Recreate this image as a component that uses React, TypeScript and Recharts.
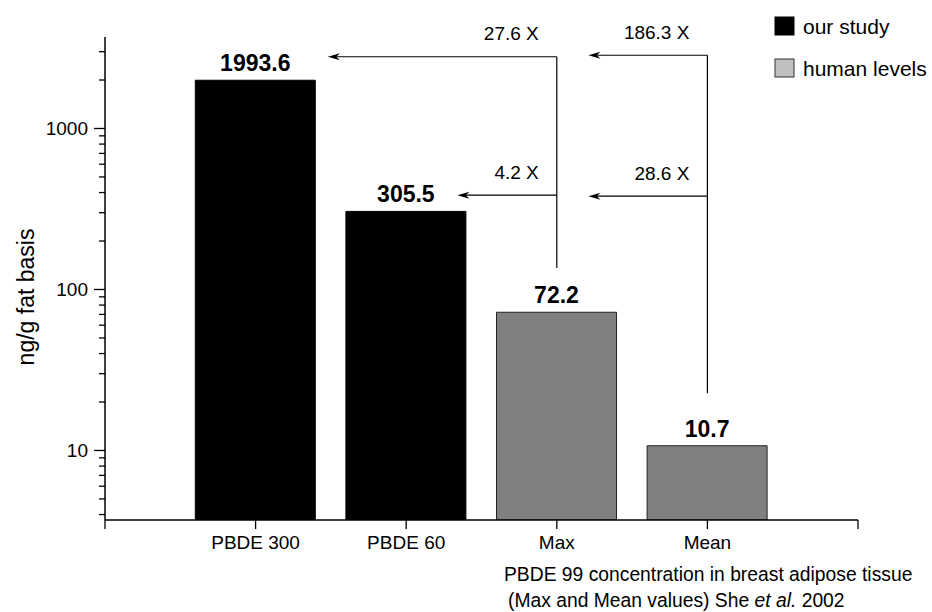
import React from 'react';
import { BarChart, Bar, XAxis, YAxis, Cell, LabelList, ReferenceLine, Customized } from 'recharts';

const FONT = '"Liberation Sans", Arial, Helvetica, sans-serif';

// categories and values
const CATEGORIES = ['PBDE 300', 'PBDE 60', 'Max', 'Mean'];
const VALUES = [1993.6, 305.5, 72.2, 10.7];
const GROUPS = ['our study', 'our study', 'human levels', 'human levels'];
const GROUP_NAMES = ['our study', 'human levels'];

// y axis ticks (log)
const Y_DOMAIN = [3.7, 3700];
const Y_MAJOR = [10, 100, 1000];
const Y_MINOR = [4, 5, 6, 7, 8, 9, 20, 30, 40, 50, 60, 70, 80, 90, 200, 300, 400, 500, 600, 700, 800, 900, 2000, 3000];

// x axis (category index positions)
const X_TICKS = [0, 1, 2, 3, 4, 5];

// fold-difference annotations
const FOLD_LABELS = ['27.6 X', '4.2 X', '186.3 X', '28.6 X'];
const FOLD_FROM_X = [3, 3, 4, 4];
const FOLD_TO_X = [1.48, 2.34, 3.21, 3.21];
const FOLD_Y = [2790, 385, 2850, 380];
const VERTICAL_X = [3, 4];
const VERTICAL_TOP = [2790, 2850];
const VERTICAL_BOTTOM = [136, 22.7];

const CAPTION_1 = 'PBDE 99 concentration in breast adipose tissue';
const CAPTION_2A = '(Max and Mean values) She ';
const CAPTION_2B = 'et al.';
const CAPTION_2C = ' 2002';
const Y_LABEL = 'ng/g fat basis';

const GROUP_FILL: Record<string, string> = { 'our study': '#000000', 'human levels': '#808080' };
const LEGEND_FILL: Record<string, string> = { 'our study': '#000000', 'human levels': '#c0c0c0' };

const data = CATEGORIES.map((name, i) => ({ x: i + 1, name, value: VALUES[i], group: GROUPS[i] }));

const Y_TICK_SIZE = 11;
const Y_TICK_MARGIN = 6;

const YTick = (props: any) => {
  const { x, y, payload } = props;
  const axisX = x + Y_TICK_SIZE + Y_TICK_MARGIN;
  const major = Y_MAJOR.includes(payload.value);
  return (
    <g>
      <line x1={axisX - (major ? Y_TICK_SIZE : 6)} x2={axisX} y1={y} y2={y} stroke="#000" strokeWidth={1.3} />
      {major && (
        <text x={x} y={y} textAnchor="end" dominantBaseline="central" fontSize={19} fontFamily={FONT} fill="#000">
          {payload.value}
        </text>
      )}
    </g>
  );
};

const makeArrow = (label: string) => (props: any) => {
  const { x1, y1, x2, y2 } = props;
  const dir = Math.sign(x2 - x1) || -1;
  const head = 12;
  const half = 3.5;
  return (
    <g>
      <line x1={x1} y1={y1} x2={x2 - dir * head * 0.6} y2={y2} stroke="#000" strokeWidth={1.2} />
      <polygon
        points={`${x2},${y2} ${x2 - dir * head},${y2 - half} ${x2 - dir * head * 0.7},${y2} ${x2 - dir * head},${y2 + half}`}
        fill="#000"
      />
      <text x={x1 - 18} y={y1 - 23} textAnchor="end" dominantBaseline="central" fontSize={19} fontFamily={FONT} fill="#000">
        {label}
      </text>
    </g>
  );
};

const Extras = () => (
  <g fontFamily={FONT} fill="#000">
    <text
      x={26}
      y={297}
      transform="rotate(-90 26 297)"
      textAnchor="middle"
      dominantBaseline="central"
      fontSize={23}
    >
      {Y_LABEL}
    </text>
    <text x={504} y={581} fontSize={19.3}>{CAPTION_1}</text>
    <text x={508} y={607} fontSize={19.3}>
      {CAPTION_2A}
      <tspan fontStyle="italic">{CAPTION_2B}</tspan>
      {CAPTION_2C}
    </text>
    {GROUP_NAMES.map((g, i) => (
      <g key={g}>
        <rect
          x={775}
          y={17 + i * 42}
          width={19}
          height={18}
          fill={LEGEND_FILL[g]}
          stroke={i === 0 ? '#000' : '#333'}
          strokeWidth={1}
        />
        <text x={803} y={26 + i * 42} dominantBaseline="central" fontSize={21}>{g}</text>
      </g>
    ))}
  </g>
);

export default function App() {
  return (
    <div style={{ position: 'absolute', left: 0, top: 0, background: '#fff' }}>
      <BarChart width={932} height={612} data={data} margin={{ top: 37, right: 74, bottom: 0, left: 0 }}>
        <XAxis
          dataKey="x"
          type="number"
          domain={[0, 5]}
          ticks={X_TICKS}
          interval={0}
          tickFormatter={(v: number) => (v >= 1 && v <= CATEGORIES.length ? CATEGORIES[v - 1] : '')}
          height={92}
          tickSize={9}
          tickMargin={7}
          axisLine={{ stroke: '#000', strokeWidth: 1.5 }}
          tickLine={{ stroke: '#000', strokeWidth: 1.3 }}
          tick={{ fill: '#000', fontSize: 19, fontFamily: FONT }}
        />
        <YAxis
          scale="log"
          domain={Y_DOMAIN}
          allowDataOverflow
          ticks={[...Y_MINOR, ...Y_MAJOR].sort((a, b) => a - b)}
          interval={0}
          width={105}
          tickSize={Y_TICK_SIZE}
          tickMargin={Y_TICK_MARGIN}
          tickLine={false}
          axisLine={{ stroke: '#000', strokeWidth: 1.5 }}
          tick={<YTick />}
        />
        <Bar dataKey="value" barSize={120} isAnimationActive={false}>
          {data.map((d, i) => (
            <Cell key={i} fill={GROUP_FILL[d.group]} stroke={d.group === 'our study' ? '#000' : '#222'} strokeWidth={1} />
          ))}
          <LabelList
            dataKey="value"
            position="top"
            offset={9}
            formatter={(v: any) => Number(v).toFixed(1)}
            style={{ fontSize: 23, fontWeight: 'bold', fontFamily: FONT, fill: '#000' }}
          />
        </Bar>
        {VERTICAL_X.map((vx, i) => (
          <ReferenceLine
            key={'v' + i}
            segment={[{ x: vx, y: VERTICAL_TOP[i] }, { x: vx, y: VERTICAL_BOTTOM[i] }]}
            stroke="#000"
            strokeWidth={1.2}
          />
        ))}
        {FOLD_LABELS.map((lab, i) => (
          <ReferenceLine
            key={'a' + i}
            segment={[{ x: FOLD_FROM_X[i], y: FOLD_Y[i] }, { x: FOLD_TO_X[i], y: FOLD_Y[i] }]}
            shape={makeArrow(lab)}
          />
        ))}
        <Customized component={<Extras />} />
      </BarChart>
    </div>
  );
}
